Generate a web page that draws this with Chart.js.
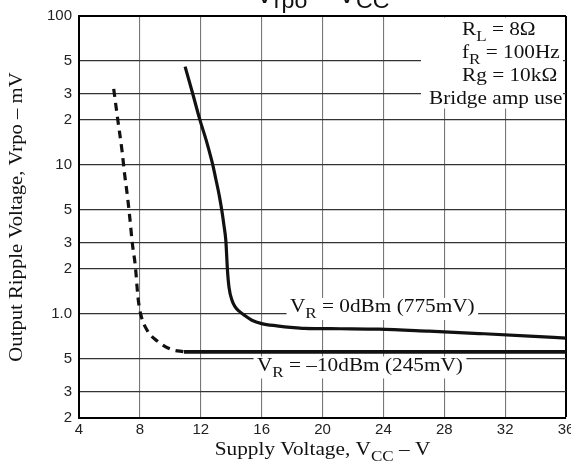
<!DOCTYPE html>
<html>
<head>
<meta charset="utf-8">
<script src="https://cdn.jsdelivr.net/npm/chart.js@4.4.1/dist/chart.umd.min.js"></script>
<style>
    html, body { margin: 0; padding: 0; background: #fff; }
    #chart { display: block; }
</style>
</head>
<body>
<canvas id="chart" width="571" height="471"></canvas>
<script>
// VR = 0dBm (775mV) curve, supply voltage in V / ripple in mV
const zeroDbmVcc = [10.97, 11.46, 11.93, 12.37, 12.71, 12.79, 12.99, 13.22, 13.39, 13.52, 13.65, 13.71, 13.75, 13.86, 14.07, 14.25, 14.50, 14.83, 15.36, 16.0, 17.0, 18.1, 18.8, 21.2, 23.7, 27.0, 30.3, 33.6, 36];
const zeroDbmRipple = [45.7, 30.4, 20.3, 14.5, 10.8, 10, 8.05, 6.2, 4.9, 3.96, 3.09, 2.39, 2.0, 1.50, 1.22, 1.12, 1.047, 0.985, 0.907, 0.861, 0.831, 0.809, 0.80, 0.795, 0.79, 0.765, 0.738, 0.71, 0.687];

// VR = -10dBm (245mV), dashed low-voltage part
const minusTenDashVcc = [6.28, 6.56, 6.83, 6.99, 7.18, 7.35, 7.50, 7.70, 7.88, 8.05, 8.50, 9.17, 10.06, 10.9];
const minusTenDashRipple = [32.4, 19.7, 12.4, 8.8, 6.2, 4.3, 3.0, 2.1, 1.28, 1.0, 0.769, 0.654, 0.578, 0.556];

// VR = -10dBm (245mV), solid part
const minusTenVcc = [10.9, 36];
const minusTenRipple = [0.556, 0.556];

const xTicks = [4, 8, 12, 16, 20, 24, 28, 32, 36];
const yTickValues = [0.2, 0.3, 0.5, 1, 2, 3, 5, 10, 20, 30, 50, 100];
const yTickLabels = ['2', '3', '5', '1.0', '2', '3', '5', '10', '2', '3', '5', '100'];

function toPoints(xs, ys) {
    return xs.map((x, i) => ({ x: x, y: ys[i] }));
}

const SERIF = '"Liberation Serif", "Times New Roman", serif';
const SANS = '"Liberation Sans", Arial, sans-serif';

function drawRuns(ctx, runs, x, y, size, opts) {
    opts = opts || {};
    const family = opts.family || SERIF;
    const sx = opts.stretch || 1.15;
    const subScale = opts.subScale || 0.8;
    const subShift = opts.subShift || 0.35;
    ctx.save();
    ctx.translate(x, y);
    if (opts.rotate) ctx.rotate(opts.rotate);
    ctx.scale(sx, 1);
    let w = 0;
    runs.forEach(r => {
        ctx.font = (r.sub ? size * subScale : size) + 'px ' + family;
        w += ctx.measureText(r.t).width;
    });
    let cx = opts.center ? -w / 2 : 0;
    if (opts.bg) {
        ctx.fillStyle = '#fff';
        ctx.fillRect(cx - 3, -size * 0.76, w + 6, size * 1.19);
    }
    ctx.fillStyle = '#111';
    ctx.textAlign = 'left';
    ctx.textBaseline = 'alphabetic';
    runs.forEach(r => {
        ctx.font = (r.sub ? size * subScale : size) + 'px ' + family;
        ctx.fillText(r.t, cx, r.sub ? size * subShift : 0);
        cx += ctx.measureText(r.t).width;
    });
    ctx.restore();
}

const textPlugin = {
    id: 'texts',
    beforeDatasetsDraw(chart) {
        const ctx = chart.ctx;
        const area = chart.chartArea;
        const cx = (area.left + area.right) / 2;
        const cy = (area.top + area.bottom) / 2;

        // conditions box, upper right
        ctx.save();
        ctx.fillStyle = '#fff';
        ctx.fillRect(area.right - 145, area.top + 1.5, 142, 91);
        ctx.restore();
        drawRuns(ctx, [{ t: 'R' }, { t: 'L', sub: true }, { t: ' = 8Ω' }], area.right - 104, area.top + 19, 18.5);
        drawRuns(ctx, [{ t: 'f' }, { t: 'R', sub: true }, { t: ' = 100Hz' }], area.right - 104, area.top + 42, 18.5);
        drawRuns(ctx, [{ t: 'Rg = 10kΩ' }], area.right - 104, area.top + 65, 18.5);
        drawRuns(ctx, [{ t: 'Bridge amp use' }], area.right - 137, area.top + 88, 18.5);

        // curve labels
        drawRuns(ctx, [{ t: 'V' }, { t: 'R', sub: true }, { t: ' = 0dBm (775mV)' }], 290, 312, 18.5, { bg: true });
        drawRuns(ctx, [{ t: 'V' }, { t: 'R', sub: true }, { t: ' = –10dBm (245mV)' }], 257, 370.5, 18.5, { bg: true });

        // axis titles
        drawRuns(ctx, [{ t: 'Supply Voltage, V' }, { t: 'CC', sub: true }, { t: ' – V' }], cx, 455, 18.5, { center: true });
        drawRuns(ctx, [{ t: 'Output Ripple Voltage, Vrpo – mV' }], 22, cy, 18, { center: true, rotate: -Math.PI / 2 });

        // chart title, cut off at the top edge
        drawRuns(ctx, [{ t: 'V' }, { t: 'rpo', sub: true }, { t: ' – V' }, { t: 'CC', sub: true }], cx, 2.5, 26,
            { center: true, family: SANS, stretch: 1.05, subScale: 0.85, subShift: 0.2 });
    }
};

new Chart(document.getElementById('chart'), {
    type: 'line',
    data: {
        datasets: [
            {
                label: 'VR = 0dBm (775mV)',
                data: toPoints(zeroDbmVcc, zeroDbmRipple),
                borderColor: '#111',
                borderWidth: 3.2,
                cubicInterpolationMode: 'monotone'
            },
            {
                label: 'VR = -10dBm (245mV) dashed',
                data: toPoints(minusTenDashVcc, minusTenDashRipple),
                borderColor: '#111',
                borderWidth: 3.2,
                borderDash: [8, 6],
                cubicInterpolationMode: 'monotone'
            },
            {
                label: 'VR = -10dBm (245mV)',
                data: toPoints(minusTenVcc, minusTenRipple),
                borderColor: '#111',
                borderWidth: 3.6
            }
        ]
    },
    options: {
        responsive: false,
        animation: false,
        devicePixelRatio: 1,
        layout: { padding: { top: 15, right: 5, left: 0, bottom: 0 } },
        elements: { point: { radius: 0 } },
        plugins: {
            legend: { display: false },
            tooltip: { enabled: false }
        },
        scales: {
            x: {
                type: 'linear',
                min: 4,
                max: 36,
                afterBuildTicks: (scale) => { scale.ticks = xTicks.map(v => ({ value: v })); },
                afterFit: (scale) => {
                    scale.height = 53;
                    // let the last label run off the edge like the original
                    scale.paddingRight = 0;
                    scale.paddingLeft = 0;
                },
                ticks: {
                    autoSkip: false,
                    maxRotation: 0,
                    padding: 3,
                    color: '#222',
                    font: { family: SANS, size: 15 }
                },
                grid: {
                    drawTicks: false,
                    color: (c) => (c.tick && c.tick.value === 36 ? '#000' : '#777'),
                    lineWidth: (c) => (c.tick && c.tick.value === 36 ? 2 : 1.1)
                },
                border: { display: true, color: '#000', width: 2 }
            },
            y: {
                type: 'logarithmic',
                min: 0.2,
                max: 100,
                afterBuildTicks: (scale) => { scale.ticks = yTickValues.map(v => ({ value: v })); },
                afterFit: (scale) => { scale.width = 79; },
                ticks: {
                    padding: 7,
                    color: '#222',
                    font: { family: SANS, size: 15 },
                    callback: (value, index) => yTickLabels[index]
                },
                grid: {
                    drawTicks: false,
                    color: (c) => (c.tick && c.tick.value === 100 ? '#000' : '#333'),
                    lineWidth: (c) => (c.tick && c.tick.value === 100 ? 2 : 1.3)
                },
                border: { display: true, color: '#000', width: 2 }
            }
        }
    },
    plugins: [textPlugin]
});
</script>
</body>
</html>
